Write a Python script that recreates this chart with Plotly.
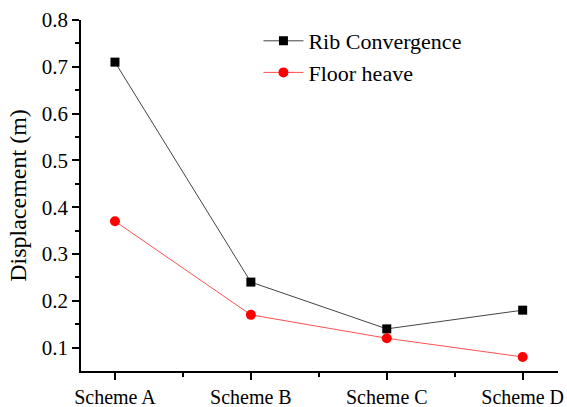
import plotly.graph_objects as go

categories = ["Scheme A", "Scheme B", "Scheme C", "Scheme D"]
rib_convergence = [0.71, 0.24, 0.14, 0.18]
floor_heave = [0.37, 0.17, 0.12, 0.08]
y_ticks = [0.1, 0.2, 0.3, 0.4, 0.5, 0.6, 0.7, 0.8]

xpos = list(range(len(categories)))
font = "Liberation Serif, Times New Roman, serif"

fig = go.Figure()
fig.add_trace(go.Scatter(
    x=xpos, y=rib_convergence, name="Rib Convergence", mode="lines+markers",
    line=dict(color="#444444", width=1),
    marker=dict(symbol="square", size=9, color="black"),
))
fig.add_trace(go.Scatter(
    x=xpos, y=floor_heave, name="Floor heave", mode="lines+markers",
    line=dict(color="#ff5050", width=1),
    marker=dict(symbol="circle", size=10, color="#ff0000"),
))

fig.update_layout(
    width=567, height=407,
    margin=dict(l=81, r=9, t=20, b=36),
    paper_bgcolor="white", plot_bgcolor="white",
    font=dict(family=font, size=20, color="black"),
    showlegend=True,
    legend=dict(x=0.372, y=1.0, xanchor="left", yanchor="top",
                font=dict(size=22, family=font), bgcolor="rgba(0,0,0,0)",
                tracegroupgap=0, itemwidth=40),
    xaxis=dict(
        range=[-0.25, 3.26], tickmode="array", tickvals=xpos, ticktext=categories,
        showline=True, linecolor="black", linewidth=1.5, mirror=False,
        ticks="outside", ticklen=7, tickwidth=1.5, tickcolor="black",
        showgrid=False, zeroline=False, automargin=False,
        tickfont=dict(size=20, family=font),
        minor=dict(tickvals=[0.5, 1.5, 2.5], ticks="outside", ticklen=4,
                   tickwidth=1.5, tickcolor="black"),
    ),
    yaxis=dict(
        range=[0.05, 0.8], tickmode="array", tickvals=y_ticks,
        ticktext=[f"{v:.1f}" for v in y_ticks],
        showline=True, linecolor="black", linewidth=1.5, mirror=False,
        ticks="outside", ticklen=7, tickwidth=1.5, tickcolor="black",
        showgrid=False, zeroline=False,
        tickfont=dict(size=21, family=font),
        title=dict(text="Displacement (m)", font=dict(size=24, family=font), standoff=8),
        minor=dict(tickvals=[0.15, 0.25, 0.35, 0.45, 0.55, 0.65, 0.75],
                   ticks="outside", ticklen=4, tickwidth=1.5, tickcolor="black"),
    ),
)

fig.write_html("out.html")
